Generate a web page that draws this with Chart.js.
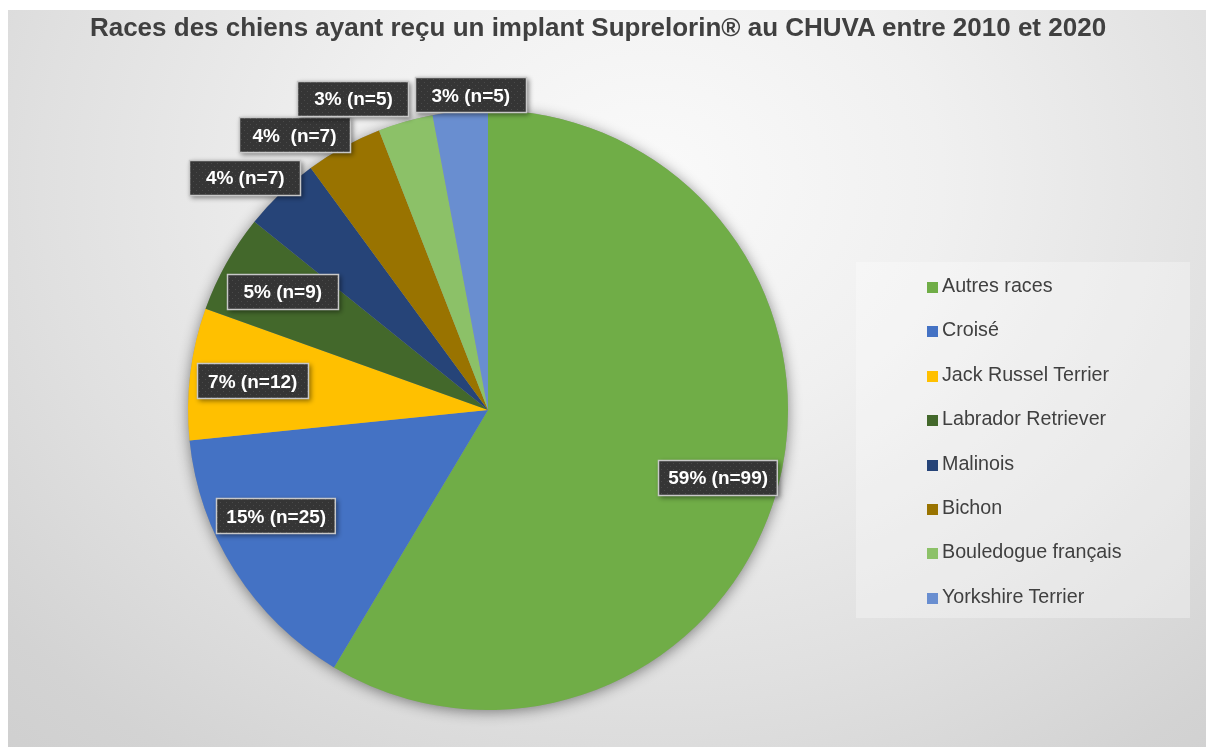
<!DOCTYPE html>
<html lang="fr">
<head>
<meta charset="utf-8">
<title>Races des chiens - Suprelorin</title>
<script src="https://cdn.jsdelivr.net/npm/chart.js@4.4.1/dist/chart.umd.min.js"></script>
<style>
    html, body { margin: 0; padding: 0; background: #fff; }
    #wrap { position: relative; width: 1206px; height: 747px; overflow: hidden; }
    #bg {
        position: absolute; left: 8px; top: 10px; right: 0; bottom: 0;
        background: radial-gradient(ellipse 980px 820px at 640px 170px, #fafafa 0%, #f0f0f0 30%, #e0e0e0 62%, #d3d3d3 85%, #cecece 100%);
    }
    #chart { position: absolute; left: 0; top: 0; }
    #title {
        position: absolute; left: 0; width: 1196px; top: 12px; text-align: center;
        font: bold 26px "Liberation Sans", Arial, sans-serif; color: #404040; white-space: nowrap;
    }
    #legend {
        position: absolute; left: 856px; top: 262px; width: 334px; height: 356px;
        background: rgba(255, 255, 255, 0.3); box-sizing: border-box; padding-top: 12px;
    }
    .item { height: 44.4px; line-height: 26px; position: relative; font: 19.7px "Liberation Sans", Arial, sans-serif; color: #404040; }
    .item span.sw { position: absolute; left: 71px; top: 8px; width: 11px; height: 11px; }
    .item span.tx { position: absolute; left: 86px; top: 0; white-space: nowrap; }
</style>
</head>
<body>
<div id="wrap">
    <div id="bg"></div>
    <canvas id="chart" width="1206" height="747"></canvas>
    <div id="title">Races des chiens ayant reçu un implant Suprelorin® au CHUVA entre 2010 et 2020</div>
    <div id="legend"></div>
</div>
<script>
// données
const races = ['Autres races', 'Croisé', 'Jack Russel Terrier', 'Labrador Retriever', 'Malinois', 'Bichon', 'Bouledogue français', 'Yorkshire Terrier'];
const effectifs = [99, 25, 12, 9, 7, 7, 5, 5];
const etiquettes = ['59% (n=99)', '15% (n=25)', '7% (n=12)', '5% (n=9)', '4% (n=7)', '4%  (n=7)', '3% (n=5)', '3% (n=5)'];
const couleurs = ['#70AD47', '#4472C4', '#FFC000', '#43682B', '#264478', '#997300', '#8CC168', '#698ED0'];

// placement des étiquettes (facteur de rayon, décalage d'angle en degrés)
const placement = [
    { r: 0.80, da: 1 },
    { r: 0.79, da: 5.8 },
    { r: 0.79, da: 0 },
    { r: 0.79, da: 0.7 },
    { r: 1.12, da: -2.6 },
    { r: 1.12, da: -6.4 },
    { r: 1.13, da: -7.4 },
    { r: 1.05, da: 2.2 }
];

// légende HTML
const legendEl = document.getElementById('legend');
races.forEach((nom, i) => {
    const div = document.createElement('div');
    div.className = 'item';
    div.innerHTML = '<span class="sw" style="background:' + couleurs[i] + '"></span><span class="tx">' + nom + '</span>';
    legendEl.appendChild(div);
});

// motif pointillé des étiquettes
function motif(ctx) {
    const c = document.createElement('canvas');
    c.width = 6; c.height = 6;
    const p = c.getContext('2d');
    p.fillStyle = '#353535';
    p.fillRect(0, 0, 6, 6);
    p.fillStyle = '#4a4a4a';
    p.fillRect(1, 1, 1, 1);
    p.fillRect(4, 4, 1, 1);
    return ctx.createPattern(c, 'repeat');
}

// ombre autour du camembert
const ombrePlugin = {
    id: 'ombre',
    beforeDatasetsDraw(chart) {
        const arc = chart.getDatasetMeta(0).data[0];
        if (!arc) return;
        const ctx = chart.ctx;
        ctx.save();
        ctx.shadowColor = 'rgba(0, 0, 0, 0.45)';
        ctx.shadowBlur = 14;
        ctx.shadowOffsetY = 2;
        ctx.fillStyle = '#999';
        ctx.beginPath();
        ctx.arc(arc.x, arc.y, arc.outerRadius, 0, Math.PI * 2);
        ctx.fill();
        ctx.restore();
    }
};

// étiquettes de données
const etiquettesPlugin = {
    id: 'etiquettes',
    afterDatasetsDraw(chart) {
        const ctx = chart.ctx;
        const pattern = motif(ctx);
        ctx.save();
        ctx.font = 'bold 19px "Liberation Sans", Arial, sans-serif';
        ctx.textAlign = 'center';
        ctx.textBaseline = 'middle';
        chart.getDatasetMeta(0).data.forEach((arc, i) => {
            const p = placement[i];
            const mid = (arc.startAngle + arc.endAngle) / 2 + p.da * Math.PI / 180;
            const cx = arc.x + Math.cos(mid) * arc.outerRadius * p.r;
            const cy = arc.y + Math.sin(mid) * arc.outerRadius * p.r;
            const tw = ctx.measureText(etiquettes[i]).width;
            const w = Math.max(tw + 20, 112);
            const h = 36;
            const x = Math.round(cx - w / 2), y = Math.round(cy - h / 2);

            ctx.save();
            ctx.shadowColor = 'rgba(0, 0, 0, 0.45)';
            ctx.shadowBlur = 5;
            ctx.shadowOffsetX = 2;
            ctx.shadowOffsetY = 2;
            ctx.fillStyle = pattern;
            ctx.fillRect(x, y, w, h);
            ctx.restore();

            ctx.strokeStyle = '#c8c8c8';
            ctx.lineWidth = 1.5;
            ctx.strokeRect(x + 0.5, y + 0.5, w - 1, h - 1);

            ctx.fillStyle = '#ffffff';
            ctx.fillText(etiquettes[i], cx, cy + 1);
        });
        ctx.restore();
    }
};

const ctx = document.getElementById('chart').getContext('2d');
window.pieChart = new Chart(ctx, {
    type: 'pie',
    data: {
        labels: races,
        datasets: [{
            data: effectifs,
            backgroundColor: couleurs,
            borderWidth: 0
        }]
    },
    options: {
        responsive: false,
        animation: false,
        layout: { padding: { left: 188, right: 418, top: 110, bottom: 37 } },
        plugins: {
            legend: { display: false },
            title: { display: false },
            tooltip: { enabled: false }
        }
    },
    plugins: [ombrePlugin, etiquettesPlugin]
});
</script>
</body>
</html>
